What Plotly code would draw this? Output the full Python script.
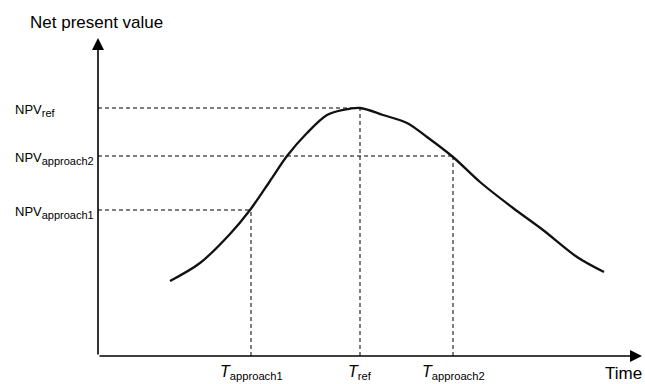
import plotly.graph_objects as go

# Curve (time vs net present value), arbitrary units
curve_t = [72, 102, 132, 152, 172, 189, 209, 229, 245, 262, 285, 309, 329, 355, 382, 415, 445, 479, 506]
curve_npv = [75, 93, 122, 146, 175, 200, 223, 241, 246, 248, 241, 233, 219, 199, 174, 148, 126, 99, 84]

# Reference points
point_t = [153, 262, 355]
point_npv = [146, 248, 200]
t_labels = ["<i>T</i><sub>approach1</sub>", "<i>T</i><sub>ref</sub>", "<i>T</i><sub>approach2</sub>"]
npv_labels = ["NPV<sub><span style='font-size:11px'>approach1</span></sub>",
              "NPV<sub><span style='font-size:11px'>ref</span></sub>",
              "NPV<sub><span style='font-size:11px'>approach2</span></sub>"]

X_MAX = 544
Y_MAX = 318
FONT = "Liberation Sans, Arial, sans-serif"


def px(v):
    return v / X_MAX


def py(v):
    return v / Y_MAX


fig = go.Figure()

# dashed guide lines
for t, v in zip(point_t, point_npv):
    fig.add_trace(go.Scatter(x=[0, t], y=[v, v], mode="lines",
                             line=dict(color="black", width=1, dash="4px,3px"),
                             hoverinfo="skip", showlegend=False))
    fig.add_trace(go.Scatter(x=[t, t], y=[0, v], mode="lines",
                             line=dict(color="black", width=1, dash="4px,3px"),
                             hoverinfo="skip", showlegend=False))

# main curve
fig.add_trace(go.Scatter(x=curve_t, y=curve_npv, mode="lines",
                         line=dict(color="#111111", width=2.3, shape="spline", smoothing=0.9),
                         showlegend=False))

annotations = []
# axes with arrows
annotations.append(dict(x=0, y=Y_MAX, ax=0, ay=0, xref="x", yref="y", axref="x", ayref="y",
                        text="", showarrow=True, arrowhead=2, arrowsize=1.5, arrowwidth=1.6,
                        arrowcolor="black"))
annotations.append(dict(x=X_MAX, y=0, ax=0, ay=0, xref="x", yref="y", axref="x", ayref="y",
                        text="", showarrow=True, arrowhead=2, arrowsize=1.5, arrowwidth=1.6,
                        arrowcolor="black"))
# axis titles
annotations.append(dict(x=px(-2), y=py(334), xref="paper", yref="paper", text="Net present value",
                        showarrow=False, font=dict(size=17, family=FONT, color="black"),
                        xanchor="center", yanchor="middle"))
annotations.append(dict(x=px(525), y=py(-17), xref="paper", yref="paper", text="Time",
                        showarrow=False, font=dict(size=17, family=FONT, color="black"),
                        xanchor="center", yanchor="middle"))
# y labels
for v, lab in zip(point_npv, npv_labels):
    annotations.append(dict(x=px(-85), y=v, xref="paper", yref="y", text=lab, showarrow=False,
                            font=dict(size=13, family=FONT, color="black"),
                            xanchor="left", yanchor="middle", yshift=-2))
# x labels (bottom of the text box sits on the bottom edge of the figure)
for t, lab in zip(point_t, t_labels):
    annotations.append(dict(x=t, y=py(-28), xref="x", yref="paper", text=lab, showarrow=False,
                            font=dict(size=16, family=FONT, color="black"),
                            xanchor="center", yanchor="bottom"))

fig.update_layout(
    width=645, height=384,
    margin=dict(l=98, r=3, t=38, b=28),
    plot_bgcolor="white", paper_bgcolor="white",
    xaxis=dict(range=[0, X_MAX], visible=False, fixedrange=True),
    yaxis=dict(range=[0, Y_MAX], visible=False, fixedrange=True),
    annotations=annotations,
    showlegend=False,
)

# remove the default 8px page margin so the figure fills the window exactly
fig.write_html("out.html",
               config={"displayModeBar": False, "staticPlot": True},
               post_script="document.body.style.margin='0';document.body.style.overflow='hidden';")
